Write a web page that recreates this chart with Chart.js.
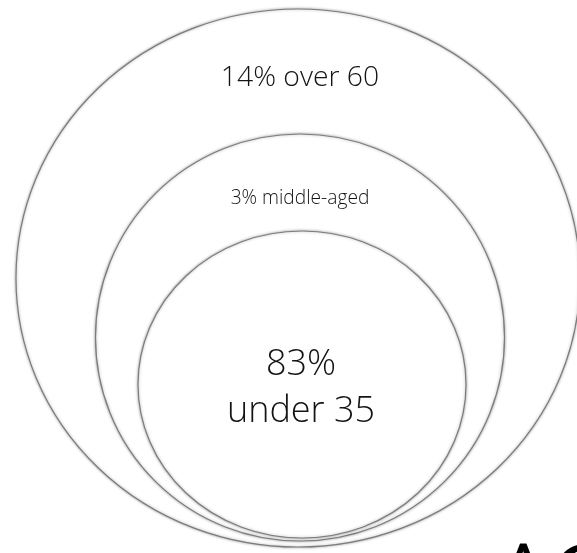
<!DOCTYPE html>
<html>
<head>
<meta charset="utf-8">
<script src="https://cdn.jsdelivr.net/npm/chart.js@4/dist/chart.umd.min.js"></script>
<style>
  html, body { margin: 0; padding: 0; background: #ffffff; }
  #wrap { width: 577px; height: 553px; overflow: hidden; }
</style>
</head>
<body>
<div id="wrap"><canvas id="c" width="577" height="553"></canvas></div>
<script>
// Age groups and their share of the population (percent)
const groups = ['over 60', 'middle-aged', 'under 35'];
const shares = [14, 3, 83];

// Ring layout, outermost first, in plot units (x: 0-577, y: 0-553 from top)
const ringCentreX = [298, 300, 302];
const ringCentreY = [278, 337.5, 384.5];
const ringRadiusX = [282, 204.5, 164];
const ringRadiusY = [269, 203.5, 153.5];

// Label placement (baseline positions) and sizes
const labelX = [300, 300, 301];
const labelBaseline = [[86], [204], [375, 421.7]];
const labelFontPx = [28.3, 19.2, 36];

const titleText = 'AG';

const ringsPlugin = {
  id: 'nestedRings',
  afterDatasetsDraw(chart) {
    const { ctx, scales } = chart;
    const sx = scales.x, sy = scales.y;
    const px = v => sx.getPixelForValue(v);
    const py = v => sy.getPixelForValue(v);

    // rings, outer to inner, each filled white with a soft grey outline
    for (let i = 0; i < groups.length; i++) {
      const cx = px(ringCentreX[i]);
      const cy = py(ringCentreY[i]);
      const rx = Math.abs(px(ringCentreX[i] + ringRadiusX[i]) - cx);
      const ry = Math.abs(py(ringCentreY[i] + ringRadiusY[i]) - cy);
      ctx.save();
      ctx.beginPath();
      ctx.ellipse(cx, cy, rx, ry, 0, 0, Math.PI * 2);
      ctx.shadowColor = 'rgba(0,0,0,0.35)';
      ctx.shadowBlur = 3;
      ctx.shadowOffsetX = 0;
      ctx.shadowOffsetY = 0;
      ctx.fillStyle = '#ffffff';
      ctx.fill();
      ctx.lineWidth = 1.2;
      ctx.strokeStyle = '#7c7c7c';
      ctx.stroke();
      ctx.restore();
    }

    // labels
    ctx.save();
    ctx.fillStyle = '#141414';
    ctx.textAlign = 'center';
    ctx.textBaseline = 'alphabetic';
    for (let i = 0; i < groups.length; i++) {
      ctx.font = '300 ' + labelFontPx[i] + 'px "Open Sans", sans-serif';
      const lines = labelBaseline[i].length > 1
        ? [shares[i] + '%', groups[i]]
        : [shares[i] + '% ' + groups[i]];
      lines.forEach((t, k) => ctx.fillText(t, px(labelX[i]), py(labelBaseline[i][k])));
    }
    ctx.restore();

    // heading running off the lower right corner
    ctx.save();
    ctx.fillStyle = '#000000';
    ctx.font = '400 86px "Open Sans", sans-serif';
    ctx.textAlign = 'left';
    ctx.textBaseline = 'alphabetic';
    ctx.fillText(titleText, px(496), py(606));
    ctx.restore();
  }
};

new Chart(document.getElementById('c'), {
  type: 'scatter',
  data: { datasets: [{ data: [], pointRadius: 0 }] },
  options: {
    responsive: false,
    animation: false,
    layout: { padding: 0 },
    plugins: { legend: { display: false }, tooltip: { enabled: false } },
    scales: {
      x: { type: 'linear', min: 0, max: 577, display: false },
      y: { type: 'linear', min: 0, max: 553, reverse: true, display: false }
    }
  },
  plugins: [ringsPlugin]
});
</script>
</body>
</html>
